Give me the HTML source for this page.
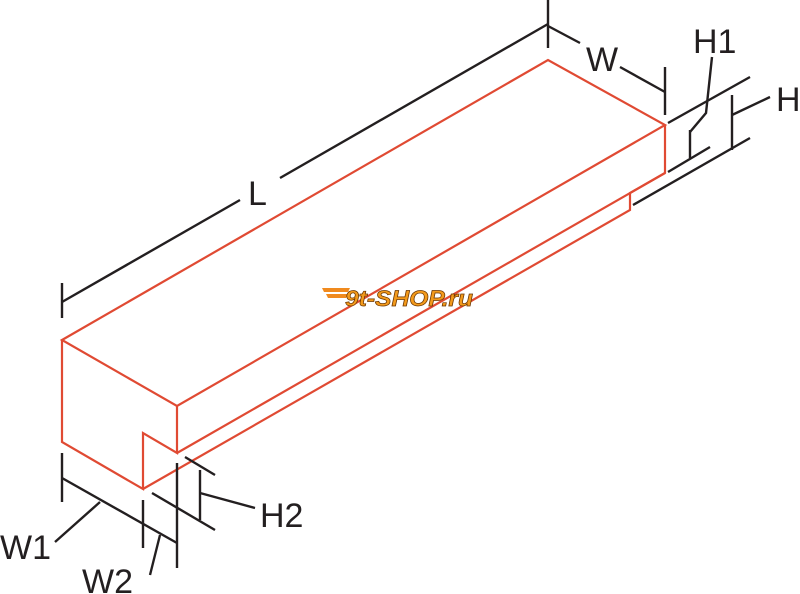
<!DOCTYPE html>
<html><head><style>
html,body{margin:0;padding:0;background:#fff;}
svg{display:block;}
text{font-family:"Liberation Sans",sans-serif;fill:#231f20;}
</style></head><body>
<svg width="800" height="594" viewBox="0 0 800 594">
<g fill="none" stroke="#e04a33" stroke-width="2.2" stroke-linejoin="miter">
<polygon points="62,340 548,60 665,125 177,406"/>
<polyline points="62,340 62,442 143,489 143,433 177,453 177,406"/>
<polyline points="665,125 665,173 177,453"/>
<polyline points="665,173 630,193 630,210 143,489"/>
</g>
<g fill="none" stroke="#231f20" stroke-width="2.4">
<line x1="62" y1="283" x2="62" y2="318"/>
<line x1="548" y1="0" x2="548" y2="48"/>
<line x1="62" y1="302" x2="240" y2="200"/>
<line x1="280" y1="178" x2="548" y2="24"/>
<line x1="548" y1="26" x2="580" y2="43"/>
<line x1="620" y1="67" x2="665" y2="92"/>
<line x1="665" y1="67" x2="665" y2="115"/>
<line x1="668" y1="123" x2="750" y2="77"/>
<line x1="668" y1="172" x2="710" y2="147"/>
<line x1="633" y1="205" x2="750" y2="138"/>
<line x1="690" y1="130" x2="690" y2="158"/>
<polyline points="690,132 706,113 712,57"/>
<line x1="732" y1="95" x2="732" y2="150"/>
<line x1="732" y1="115" x2="770" y2="97"/>
<line x1="62" y1="453" x2="62" y2="502"/>
<line x1="62" y1="478" x2="177" y2="543"/>
<line x1="143" y1="500" x2="143" y2="548"/>
<line x1="177" y1="463" x2="177" y2="568"/>
<line x1="100" y1="502" x2="55" y2="542"/>
<line x1="160" y1="535" x2="150" y2="575"/>
<line x1="185" y1="457" x2="215" y2="475"/>
<line x1="152" y1="493" x2="215" y2="530"/>
<line x1="200" y1="470" x2="200" y2="520"/>
<line x1="200" y1="493" x2="255" y2="508"/>
</g>
<text x="248" y="205" font-size="34">L</text>
<text x="586" y="71" font-size="34">W</text>
<text x="693" y="53" font-size="34">H1</text>
<text x="776" y="111" font-size="34">H</text>
<text x="260" y="527" font-size="34">H2</text>
<text x="0" y="559" font-size="34">W1</text>
<text x="82" y="593" font-size="34">W2</text>
<g>
<polygon points="322,288 350,288 348,292 324,292" fill="#f08a1e"/>
<polygon points="326,294 348,294 346,298 328,298" fill="#f08a1e"/>
<text x="345" y="306" font-size="22" font-weight="bold" font-style="italic" textLength="128" lengthAdjust="spacingAndGlyphs" style="fill:#f39a1b;stroke:#6b3500;stroke-width:0.7">9t-SHOP.ru</text>
</g>
</svg>
</body></html>
